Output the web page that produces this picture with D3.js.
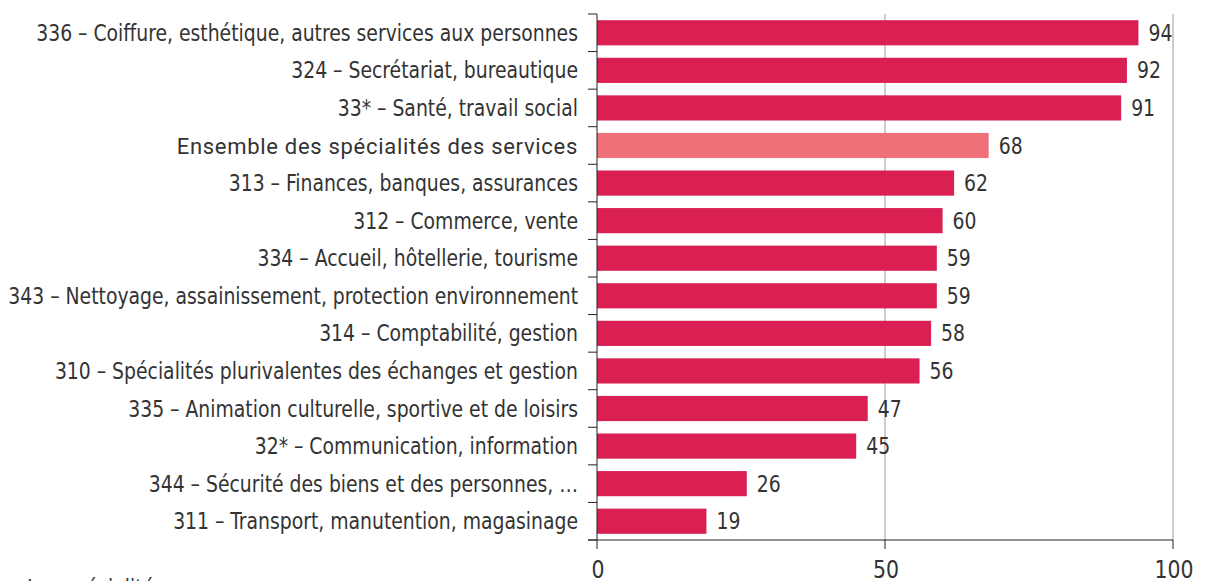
<!DOCTYPE html>
<html>
<head>
<meta charset="utf-8">
<script src="https://cdn.jsdelivr.net/npm/d3@7"></script>
<style>
  html, body { margin: 0; padding: 0; background: #fff; }
  svg { display: block; }
  .lbl { font-family: "Liberation Sans Narrow", "DejaVu Sans Condensed", "Arial Narrow", sans-serif; fill: #333; font-size: 23px; }
  .tick { font-size: 25px; }
  .total { font-family: Roboto, sans-serif; fill: #333; font-size: 22px; letter-spacing: 0.7px; }
</style>
</head>
<body>
<svg id="chart" width="1205" height="581"></svg>
<script>
// Part des sortants par spécialité de formation (services)
const categories = [
  "336 – Coiffure, esthétique, autres services aux personnes",
  "324 – Secrétariat, bureautique",
  "33* – Santé, travail social",
  "Ensemble des spécialités des services",
  "313 – Finances, banques, assurances",
  "312 – Commerce, vente",
  "334 – Accueil, hôtellerie, tourisme",
  "343 – Nettoyage, assainissement, protection environnement",
  "314 – Comptabilité, gestion",
  "310 – Spécialités plurivalentes des échanges et gestion",
  "335 – Animation culturelle, sportive et de loisirs",
  "32* – Communication, information",
  "344 – Sécurité des biens et des personnes, …",
  "311 – Transport, manutention, magasinage"
];
const values = [94, 92, 91, 68, 62, 60, 59, 59, 58, 56, 47, 45, 26, 19];
const totalLabel = "Ensemble des spécialités des services";
const xTicks = [0, 50, 100];
const footnote = "Les spécialités";

const svg = d3.select("#chart");
const plotLeft = 597, plotRight = 1173, plotTop = 14, plotBottom = 540;
const labelRight = 578;

const x = d3.scaleLinear().domain([0, 100]).range([plotLeft, plotRight]);
const y = d3.scaleBand().domain(categories).range([plotTop, plotBottom])
  .paddingInner(0.33).paddingOuter(0.165);

// The label face is a narrow grotesque: derive a horizontal squeeze so the
// longest category label spans the room left of the axis.
const probe = svg.append("text").attr("class", "lbl")
  .text(categories[7]);
const narrow = Math.min(1, 570 / probe.node().getComputedTextLength());
probe.remove();

function narrowText(sel, xPos, yPos) {
  sel.attr("transform", (d, i) => `translate(${xPos(d, i)},${yPos(d, i)}) scale(${narrow},1)`);
}

// vertical gridlines
svg.append("g").selectAll("line")
  .data(xTicks.filter(d => d > 0))
  .join("line")
  .attr("x1", d => x(d)).attr("x2", d => x(d))
  .attr("y1", plotTop).attr("y2", plotBottom)
  .attr("stroke", "#9a9a9a").attr("stroke-width", 1);

// bars
svg.append("g").selectAll("rect")
  .data(categories)
  .join("rect")
  .attr("x", x(0))
  .attr("y", d => y(d))
  .attr("width", (d, i) => x(values[i]) - x(0))
  .attr("height", y.bandwidth())
  .attr("fill", d => d === totalLabel ? "#ef7079" : "#da1f53");

// value labels
svg.append("g").selectAll("text")
  .data(categories)
  .join("text")
  .attr("class", "lbl")
  .call(narrowText, (d, i) => x(values[i]) + 10, d => y(d) + y.bandwidth() / 2 + 8)
  .text((d, i) => values[i]);

// category axis with ticks at band boundaries
const yAxis = svg.append("g");
yAxis.append("line")
  .attr("x1", plotLeft).attr("x2", plotLeft).attr("y1", plotTop).attr("y2", plotBottom)
  .attr("stroke", "#222");
const step = y.step();
const bounds = d3.range(categories.length + 1).map(i => plotTop + i * step);
yAxis.selectAll("line.tk").data(bounds).join("line")
  .attr("class", "tk")
  .attr("x1", plotLeft - 9).attr("x2", plotLeft)
  .attr("y1", d => d).attr("y2", d => d)
  .attr("stroke", "#222");

const catLabels = yAxis.selectAll("text").data(categories).join("text")
  .attr("text-anchor", "end")
  .text(d => d);
catLabels.filter(d => d !== totalLabel)
  .attr("class", "lbl")
  .call(narrowText, () => labelRight, d => y(d) + y.bandwidth() / 2 + 8);
catLabels.filter(d => d === totalLabel)
  .attr("class", "total")
  .attr("x", labelRight)
  .attr("y", d => y(d) + y.bandwidth() / 2 + 8);

// value axis
const xAxis = svg.append("g");
xAxis.append("line")
  .attr("x1", plotLeft - 9).attr("x2", plotRight).attr("y1", plotBottom).attr("y2", plotBottom)
  .attr("stroke", "#222");
xAxis.selectAll("line.tk").data(xTicks).join("line")
  .attr("class", "tk")
  .attr("x1", d => x(d)).attr("x2", d => x(d))
  .attr("y1", plotBottom).attr("y2", plotBottom + 9)
  .attr("stroke", "#222");
xAxis.selectAll("text").data(xTicks).join("text")
  .attr("class", "lbl tick")
  .attr("text-anchor", "middle")
  .call(narrowText, d => x(d) + 1, () => 578)
  .text(d => d);

svg.append("text")
  .datum(footnote)
  .attr("class", "lbl")
  .call(narrowText, () => 27, () => 596)
  .text(d => d);
</script>
</body>
</html>
